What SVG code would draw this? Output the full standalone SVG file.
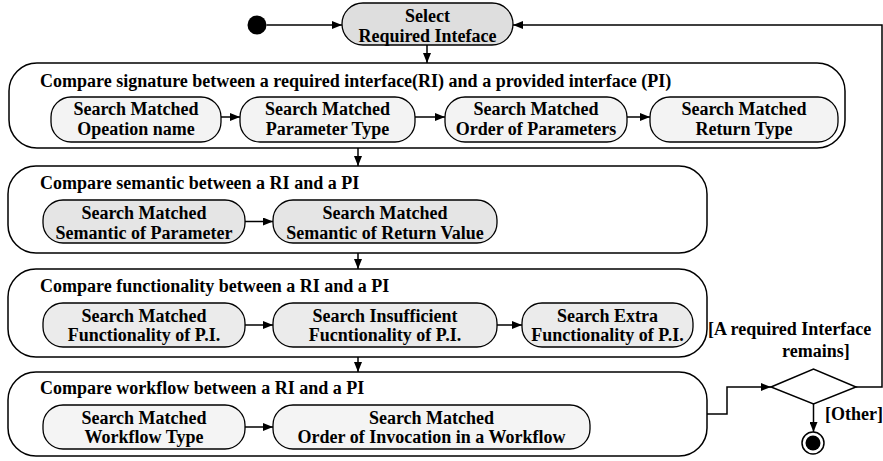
<svg xmlns="http://www.w3.org/2000/svg" width="883" height="461" viewBox="0 0 883 461">
  <style>
    text { font-family: "Liberation Serif", "Times New Roman", serif; font-weight: bold; font-size: 18px; fill: #000; }
    .mid { text-anchor: middle; }
    .container { fill: #fff; stroke: #000; stroke-width: 1.5; }
    .act { stroke: #000; stroke-width: 1.3; }
    .sig { fill: #f3f3f3; }
    .sem { fill: #e5e5e5; }
    .fun { fill: #ebebeb; }
    .wf { fill: #f4f4f4; }
    .sel { fill: #dedede; }
    .flow { fill: none; stroke: #000; stroke-width: 1.5; marker-end: url(#arrow); }
    .line { fill: none; stroke: #000; stroke-width: 1.5; }
  </style>
  <defs>
    <marker id="arrow" markerUnits="userSpaceOnUse" markerWidth="10" markerHeight="8" refX="10" refY="4" orient="auto">
      <path d="M0,0 L10,4 L0,8 z" fill="#000"/>
    </marker>
  </defs>

  <rect width="883" height="461" fill="#fff"/>

  <!-- start / end -->
  <g id="initial">
    <circle cx="257" cy="25" r="9.5" fill="#000"/>
  </g>
  <g id="final">
    <circle cx="813" cy="443" r="11" fill="#fff" stroke="#000" stroke-width="1.5"/>
    <circle cx="813" cy="443" r="7.5" fill="#000"/>
  </g>

  <!-- select -->
  <g id="select">
    <rect class="act sel" x="342" y="3" width="171" height="42" rx="21" ry="21"/>
    <text class="mid" x="427.5" y="22">Select</text>
    <text class="mid" x="427.5" y="41.5">Required Inteface</text>
  </g>

  <!-- signature comparison -->
  <g id="signature">
    <rect class="container" x="9" y="63" width="836" height="85" rx="28" ry="28"/>
    <text x="40" y="86.5">Compare signature between a required interface(RI) and a provided interface (PI)</text>
    <g id="sig-opname">
      <rect class="act sig" x="51" y="97" width="170" height="45" rx="20" ry="20"/>
      <text class="mid" x="136" y="115">Search Matched</text>
      <text class="mid" x="136" y="135">Opeation name</text>
    </g>
    <g id="sig-paramtype">
      <rect class="act sig" x="240" y="97" width="175" height="45" rx="20" ry="20"/>
      <text class="mid" x="327.5" y="115">Search Matched</text>
      <text class="mid" x="327.5" y="135">Parameter Type</text>
    </g>
    <g id="sig-order">
      <rect class="act sig" x="445" y="97" width="182" height="45" rx="20" ry="20"/>
      <text class="mid" x="536" y="115">Search Matched</text>
      <text class="mid" x="536" y="135">Order of Parameters</text>
    </g>
    <g id="sig-return">
      <rect class="act sig" x="650" y="97" width="188" height="45" rx="20" ry="20"/>
      <text class="mid" x="744" y="115">Search Matched</text>
      <text class="mid" x="744" y="135">Return Type</text>
    </g>
  </g>

  <!-- semantic comparison -->
  <g id="semantic">
    <rect class="container" x="8" y="166" width="699" height="87" rx="28" ry="28"/>
    <text x="40" y="188.5">Compare semantic between a RI and a PI</text>
    <g id="sem-param">
      <rect class="act sem" x="43" y="200" width="202" height="43" rx="20" ry="20"/>
      <text class="mid" x="144" y="218.5">Search Matched</text>
      <text class="mid" x="144" y="238.5">Semantic of Parameter</text>
    </g>
    <g id="sem-return">
      <rect class="act sem" x="273" y="200" width="224" height="43" rx="20" ry="20"/>
      <text class="mid" x="385" y="218.5">Search Matched</text>
      <text class="mid" x="385" y="238.5">Semantic of Return Value</text>
    </g>
  </g>

  <!-- functionality comparison -->
  <g id="functionality">
    <rect class="container" x="8" y="269" width="699" height="88" rx="28" ry="28"/>
    <text x="40" y="292">Compare functionality between a RI and a PI</text>
    <g id="fun-matched">
      <rect class="act fun" x="43" y="303" width="202" height="44" rx="20" ry="20"/>
      <text class="mid" x="144" y="321.5">Search Matched</text>
      <text class="mid" x="144" y="341">Functionality of P.I.</text>
    </g>
    <g id="fun-insufficient">
      <rect class="act fun" x="273" y="303" width="224" height="44" rx="20" ry="20"/>
      <text class="mid" x="385" y="321.5">Search Insufficient</text>
      <text class="mid" x="385" y="341">Fucntionality of P.I.</text>
    </g>
    <g id="fun-extra">
      <rect class="act fun" x="522" y="303" width="171" height="44" rx="20" ry="20"/>
      <text class="mid" x="607.5" y="321.5">Search Extra</text>
      <text class="mid" x="607.5" y="341">Functionality of P.I.</text>
    </g>
  </g>

  <!-- workflow comparison -->
  <g id="workflow">
    <rect class="container" x="8" y="372" width="699" height="84" rx="28" ry="28"/>
    <text x="40" y="394">Compare workflow between a RI and a PI</text>
    <g id="wf-type">
      <rect class="act wf" x="43" y="405" width="202" height="44" rx="20" ry="20"/>
      <text class="mid" x="144" y="423.5">Search Matched</text>
      <text class="mid" x="144" y="443">Workflow Type</text>
    </g>
    <g id="wf-order">
      <rect class="act wf" x="273" y="405" width="317" height="44" rx="20" ry="20"/>
      <text class="mid" x="431.5" y="423.5">Search Matched</text>
      <text class="mid" x="431.5" y="443">Order of Invocation in a Workflow</text>
    </g>
  </g>

  <!-- decision -->
  <g id="decision">
    <polygon points="771,387 813.5,369 856,387 813.5,404" fill="#fff" stroke="#000" stroke-width="1.5"/>
  </g>

  <!-- guards -->
  <g id="guards">
    <text x="708" y="335">[A required Interface</text>
    <text x="782" y="357">remains]</text>
    <text x="825" y="420">[Other]</text>
  </g>

  <!-- connectors -->
  <g id="connectors">
    <line class="flow" x1="266.5" y1="25" x2="342" y2="25"/>
    <line class="flow" x1="427" y1="45" x2="427" y2="63"/>
    <line class="flow" x1="221" y1="117" x2="240" y2="117"/>
    <line class="flow" x1="415" y1="117" x2="445" y2="117"/>
    <line class="flow" x1="627" y1="117" x2="650" y2="117"/>
    <line class="flow" x1="358" y1="148" x2="358" y2="166"/>
    <line class="flow" x1="245" y1="221.5" x2="273" y2="221.5"/>
    <line class="flow" x1="358" y1="253" x2="358" y2="269"/>
    <line class="flow" x1="245" y1="325" x2="273" y2="325"/>
    <line class="flow" x1="497" y1="325" x2="522" y2="325"/>
    <line class="flow" x1="358" y1="357" x2="358" y2="372"/>
    <line class="flow" x1="245" y1="427" x2="273" y2="427"/>
    <polyline class="flow" points="707,414 727,414 727,387 771,387"/>
    <polyline class="flow" points="856,387 882,387 882,25 513,25"/>
    <line class="flow" x1="813.5" y1="404" x2="813.5" y2="432"/>
  </g>
</svg>
